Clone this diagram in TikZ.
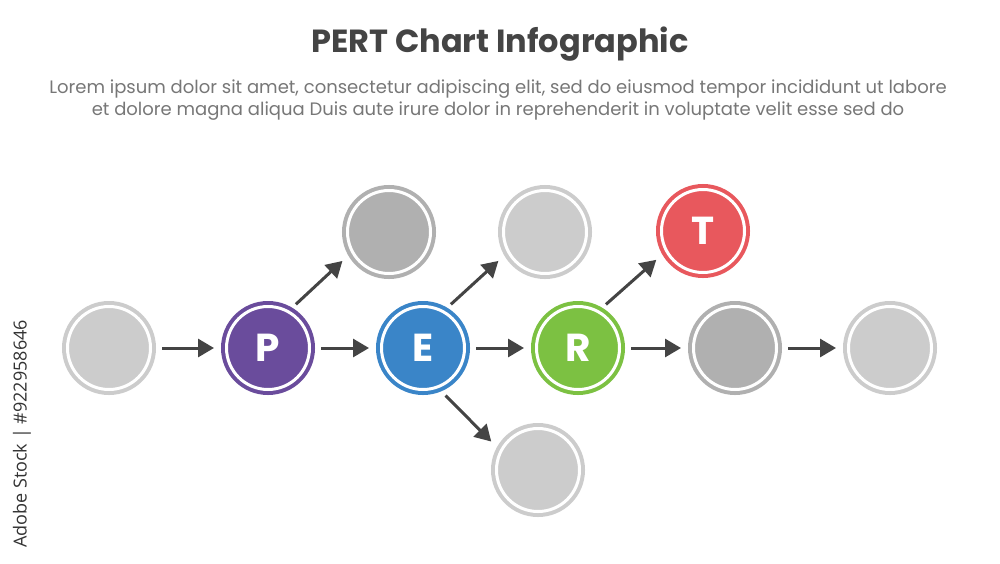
\documentclass[tikz,border=0pt]{standalone}
\usepackage{fontspec}
\setmainfont{Poppins}
\newfontfamily\wmfont{Open Sans}
\usetikzlibrary{arrows.meta,calc}
\definecolor{cP}{HTML}{6A4C9C}
\definecolor{cE}{HTML}{3A85C8}
\definecolor{cR}{HTML}{7CC142}
\definecolor{cT}{HTML}{E8585D}
\definecolor{gL}{HTML}{CCCCCC}
\definecolor{gD}{HTML}{B0B0B0}
\definecolor{arrc}{HTML}{444444}
\definecolor{titlec}{HTML}{444444}
\definecolor{bodyc}{HTML}{777777}
\definecolor{wmc}{HTML}{333333}
\tikzset{
  pn/.style={circle, minimum size=83pt, inner sep=0pt, line width=4pt,
    double distance=3pt, draw=#1, double=white, fill=#1, outer sep=5.5pt,
    text=white, font=\fontsize{39}{44}\selectfont\bfseries},
  arr/.style={draw=arrc, line width=3pt, -{Triangle[length=16pt,width=18pt]},
    shorten <=6pt, shorten >=7pt},
  titletxt/.style={text=titlec, font=\fontsize{32}{38}\selectfont\bfseries},
  bodytxt/.style={text=bodyc, font=\fontsize{18}{22}\selectfont, align=center},
}
\begin{document}
\begin{tikzpicture}[x=1pt,y=-1pt]
\useasboundingbox[fill=white] (0,0) rectangle (1000,563);
\node[titletxt] (title) at (500,44) {PERT Chart Infographic};
\node[bodytxt] (l1) at (498,89) {Lorem ipsum dolor sit amet, consectetur adipiscing elit, sed do eiusmod tempor incididunt ut labore};
\node[bodytxt] (l2) at (498,111) {et dolore magna aliqua Duis aute irure dolor in reprehenderit in voluptate velit esse sed do};
\node[rotate=90, text=wmc, font=\wmfont\fontsize{18}{22}\selectfont] (wm) at (22,434) {Adobe Stock | \#922958646};

\node[pn=gL] (n0) at (109,348) {};
\node[pn=cP] (P) at (268,348) {P};
\node[pn=cE] (E) at (423,348) {E};
\node[pn=cR] (R) at (578,348) {R};
\node[pn=gD] (n4) at (735,348) {};
\node[pn=gL] (n5) at (890,348) {};
\node[pn=gD] (a1) at (389,232) {};
\node[pn=gL] (a2) at (545,232) {};
\node[pn=cT] (T) at (703,231) {T};
\node[pn=gL] (b1) at (538,470) {};

\draw[arr] (n0) -- (P);
\draw[arr] (P) -- (E);
\draw[arr] (E) -- (R);
\draw[arr] (R) -- (n4);
\draw[arr] (n4) -- (n5);
\draw[arr, shorten <=5pt, shorten >=8pt] (P.59) -- (a1.210);
\draw[arr, shorten <=5pt, shorten >=8pt] (E.59) -- (a2.210);
\draw[arr, shorten <=5pt, shorten >=8pt] (R.59) -- (T.210);
\draw[arr, shorten <=6pt, shorten >=8pt] (E.-67) -- (b1.151);
\end{tikzpicture}
\end{document}
